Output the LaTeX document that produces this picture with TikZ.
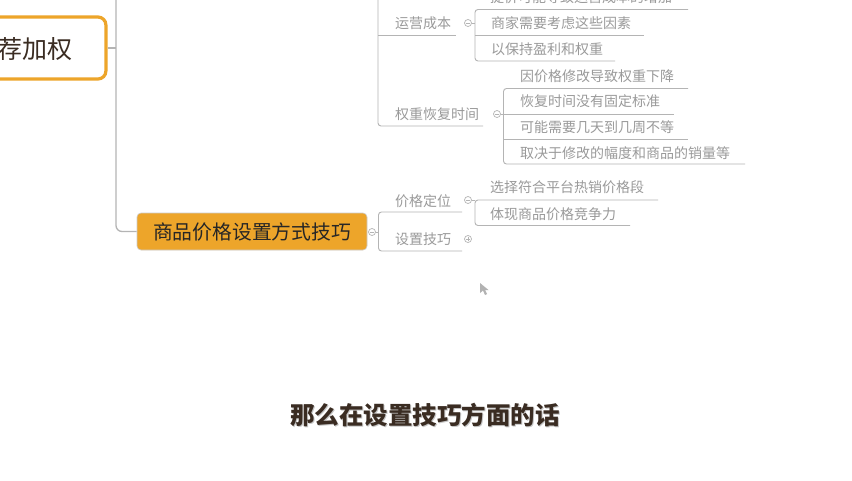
\documentclass[tikz,border=0pt]{standalone}
\usepackage{fontspec}
\newfontfamily\cjk{Noto Sans CJK SC}
\definecolor{leafgray}{HTML}{9A9A9A}
\definecolor{linegray}{HTML}{B4B4B4}
\definecolor{mainorange}{HTML}{EDA52A}
\definecolor{darktext}{HTML}{3A2C22}
\begin{document}
\begin{tikzpicture}[x=1pt,y=-1pt,
  leaf/.style={anchor=west, inner sep=0pt, font=\cjk\fontsize{14}{16}\selectfont, text=leafgray},
  ln/.style={draw=linegray, line width=0.9pt, rounded corners=3pt},
  tog/.style={circle, draw=linegray, line width=0.7pt, minimum size=7pt, inner sep=0pt, fill=white},
]
\useasboundingbox (0,0) rectangle (852,480);
\clip (0,0) rectangle (852,480);
\fill[white] (0,0) rectangle (852,480);

% left (cut) parent box
\node[draw=mainorange, line width=3.2pt, rounded corners=8pt, fill=white,
      minimum width=140pt, minimum height=62pt, anchor=east, inner sep=0pt] (top) at (107.5,48) {};
\node[anchor=east, inner sep=0pt, font=\cjk\fontsize{25}{27}\selectfont, text=darktext] (toptxt) at (73,49) {荐加权};

% main trunk
\draw[draw=linegray, line width=1.3pt] (top.east) -- (116,48);
\coordinate (trunkTop) at (116,0);
\node[draw=linegray!70, line width=0.6pt, fill=mainorange, rounded corners=4pt,
      minimum width=230pt, minimum height=37pt, inner sep=0pt,
      font=\cjk\fontsize{19.8}{21}\selectfont, text=black!85] (main) at (252,231.5) {商品价格设置方式技巧};
\draw[draw=linegray, line width=1.3pt, rounded corners=6pt] (trunkTop) -- (116,231.5) -- (main.west);

% main toggle
\node[tog] (tmain) at (372,232) {};
\draw[linegray, line width=0.6pt] ([xshift=-2pt]tmain.center) -- ([xshift=2pt]tmain.center);

% ---------- upper group (parent off-screen) ----------
\node[leaf] (yy) at (395,23) {运营成本};
\node[tog] (tyy) at (468,23) {};
\draw[linegray, line width=0.6pt] ([xshift=-2pt]tyy.center) -- ([xshift=2pt]tyy.center);
\node[leaf] (qz) at (395,114) {权重恢复时间};
\node[tog] (tqz) at (497,114) {};
\draw[linegray, line width=0.6pt] ([xshift=-2pt]tqz.center) -- ([xshift=2pt]tqz.center);
\draw[ln] (378,0) -- (378,126) -- (483,126);
\draw[ln] (378,35) -- (456,35);

% children of 运营成本
\node[leaf] (y0) at (490,-3) {提价可能导致运营成本的增加};
\node[leaf] (y1) at (491,23) {商家需要考虑这些因素};
\node[leaf] (y2) at (491,49) {以保持盈利和权重};
\draw[ln] (688,9.5) -- (475,9.5) -- (475,61) -- (615,61);
\draw[ln] (475,35) -- (644,35);
\draw[draw=linegray, line width=0.9pt] (tyy.east) -- (475,23);

% children of 权重恢复时间
\node[leaf] (q1) at (520,76) {因价格修改导致权重下降};
\node[leaf] (q2) at (520,101) {恢复时间没有固定标准};
\node[leaf] (q3) at (520,127) {可能需要几天到几周不等};
\node[leaf] (q4) at (520,153) {取决于修改的幅度和商品的销量等};
\draw[ln] (688,88.5) -- (503.5,88.5) -- (503.5,164) -- (745,164);
\draw[ln] (503.5,114) -- (674,114);
\draw[ln] (503.5,139) -- (688,139);
\draw[draw=linegray, line width=0.9pt] (tqz.east) -- (503.5,114);

% ---------- lower group ----------
\node[leaf] (jg) at (395,201) {价格定位};
\node[tog] (tjg) at (468,200) {};
\draw[linegray, line width=0.6pt] ([xshift=-2pt]tjg.center) -- ([xshift=2pt]tjg.center);
\node[leaf] (sz) at (395,239) {设置技巧};
\node[tog] (tsz) at (468,239) {};
\draw[linegray, line width=0.6pt] ([xshift=-2pt]tsz.center) -- ([xshift=2pt]tsz.center);
\draw[linegray, line width=0.6pt] ([yshift=-2pt]tsz.center) -- ([yshift=2pt]tsz.center);
\draw[ln] (462,212) -- (378.5,212) -- (378.5,251) -- (462,251);
\draw[draw=linegray, line width=0.9pt] (tmain.east) -- (378.5,232);

\node[leaf] (j1) at (490,187) {选择符合平台热销价格段};
\node[leaf] (j2) at (490,214) {体现商品价格竞争力};
\draw[ln] (658,200) -- (475,200) -- (475,225.5) -- (630,225.5);
\draw[draw=linegray, line width=0.9pt] (tjg.east) -- (475,200);

% mouse cursor
\fill[gray!60] (480,283) -- (480,293) -- (483,290.5) -- (485,295) -- (487,294) -- (485,290) -- (488.5,290) -- cycle;

% subtitle
\node[font=\cjk\bfseries\fontsize{24.5}{27}\selectfont, text=gray!45] at (426,416) {那么在设置技巧方面的话};
\node[font=\cjk\bfseries\fontsize{24.5}{27}\selectfont, text=darktext] (sub) at (425,415) {那么在设置技巧方面的话};
\end{tikzpicture}
\end{document}
